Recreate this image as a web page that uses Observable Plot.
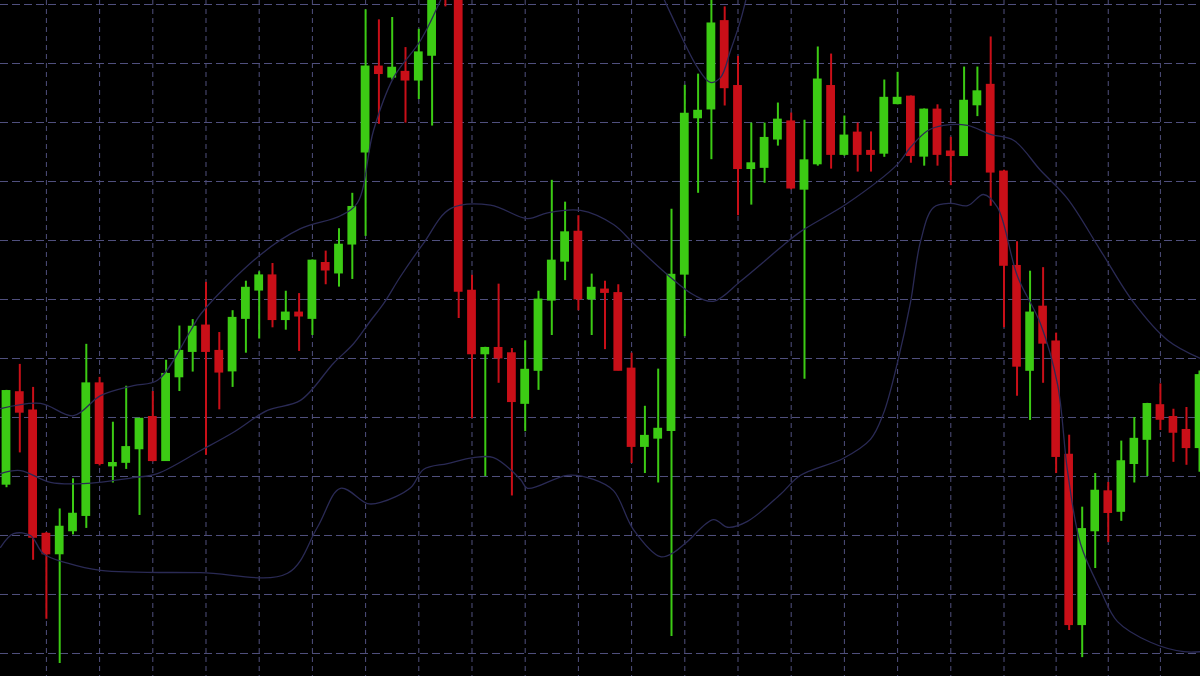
<!DOCTYPE html>
<html>
<head>
<meta charset="utf-8">
<script src="https://cdn.jsdelivr.net/npm/d3@7"></script>
<script src="https://cdn.jsdelivr.net/npm/@observablehq/plot@0.6"></script>
<style>
html, body { margin: 0; padding: 0; background: #000; overflow: hidden; }
#chart svg { display: block; }
</style>
</head>
<body>
<div id="chart"></div>
<script>
// OHLC per bar (bar index 0..90), price units
const opens = [118.7,134.2,131.1,110.2,106.9,110.8,113.4,135.7,121.8,122.4,124.7,130.0,122.7,136.9,141.2,145.5,141.2,137.9,146.8,151.6,154.0,146.6,147.7,146.8,156.1,154.5,159.4,175.0,189.4,187.7,188.5,187.2,191.4,207.0,204.0,151.4,140.8,141.7,140.8,132.4,138.0,149.9,156.5,161.4,150.1,151.6,151.0,138.2,125.1,126.5,127.8,154.3,180.8,182.3,197.1,186.1,172.2,172.4,177.2,180.1,168.7,173.0,186.1,174.6,178.2,175.1,174.8,183.2,184.3,174.3,182.1,175.0,174.4,183.0,186.3,171.6,155.6,138.0,148.7,142.8,123.6,94.9,110.8,117.4,114.1,122.2,126.3,132.0,130.0,127.8,124.9];
const highs = [134.6,139.0,135.1,110.5,114.5,119.6,142.4,136.8,129.2,135.3,129.8,134.4,139.7,145.5,146.6,152.9,144.4,148.1,153.1,154.7,156.1,151.4,151.0,156.7,158.2,162.0,168.0,199.1,197.4,197.8,192.7,195.8,205.0,209.0,206.0,154.1,141.9,152.6,141.7,143.0,151.4,170.2,166.5,164.2,154.3,153.1,152.5,140.9,131.9,138.2,165.3,186.3,188.2,201.0,199.6,191.2,179.9,179.9,183.3,181.6,180.4,192.8,191.6,181.1,179.9,178.4,187.2,188.5,184.5,182.3,183.0,177.5,189.4,189.4,194.5,171.9,159.8,154.8,155.4,144.3,127.0,114.8,120.5,119.0,126.0,130.0,132.4,135.7,131.4,131.7,137.9];
const lows = [118.1,124.0,105.8,95.8,88.3,110.1,111.2,121.8,118.9,121.2,113.4,122.5,122.6,134.4,137.7,123.6,131.3,135.1,140.9,143.3,145.2,144.8,141.2,143.9,152.5,152.1,153.4,160.7,179.7,187.2,179.9,183.9,179.4,199.6,146.8,129.8,120.0,135.8,116.7,127.6,134.6,143.9,153.2,148.1,143.9,141.5,137.9,122.2,120.5,118.9,92.9,143.7,168.0,173.7,182.8,164.2,166.0,169.7,176.0,168.6,136.5,172.6,172.1,174.3,171.6,171.6,174.1,183.0,173.1,172.6,172.6,169.3,174.3,181.0,165.8,145.2,133.6,129.5,135.8,120.5,93.9,89.3,104.4,108.8,112.4,118.9,120.0,127.8,122.4,121.9,120.7];
const closes = [134.4,130.9,109.7,106.9,111.4,113.6,135.7,122.2,122.2,124.9,129.7,122.7,137.3,141.2,145.3,141.2,137.7,146.8,151.9,154.0,146.6,147.7,147.2,156.5,155.0,159.2,165.6,189.4,188.3,189.2,187.2,191.8,203.0,202.0,151.4,140.8,141.7,140.1,132.7,138.0,149.9,156.5,161.3,150.1,151.9,151.2,138.0,125.1,126.8,128.0,154.1,181.4,181.9,196.7,185.9,172.2,173.0,177.3,180.4,168.9,173.5,187.2,174.6,177.7,174.6,174.6,184.1,184.1,174.4,182.1,174.6,174.4,183.6,185.2,171.6,155.8,138.7,147.7,142.6,123.4,94.9,111.0,117.5,113.9,122.5,126.3,132.2,129.7,127.5,124.9,137.1];

// Bollinger band traces: [bar position, price]
const upperBandA = [[-0.45,131.5],[2.56,132.4],[5.04,130.3],[7.07,133.7],[9.55,135.4],[11.35,136.3],[13.84,144.7],[14.59,147.5],[19.1,157.6],[22.1,162.0],[25.11,164.2],[26.39,166.4],[27.59,178.6],[29.1,187.6],[31.13,193.9],[32.63,200.7],[33.23,204.1]];
const upperBandB = [[48.8,204.1],[49.93,198.5],[51.96,189.3],[52.93,186.8],[53.68,187.6],[54.44,192.2],[55.19,197.3],[55.94,204.1]];
const middleBand = [[-0.45,120.5],[1.05,121.0],[3.31,119.0],[5.79,118.8],[9.55,119.8],[11.35,120.5],[14.59,124.4],[17.07,127.5],[19.62,131.2],[22.1,132.9],[24.59,139.2],[26.09,142.5],[27.37,146.4],[28.35,149.3],[29.62,153.9],[31.35,159.5],[33.38,165.4],[36.39,166.0],[39.17,163.7],[40.68,164.7],[43.16,165.1],[45.64,162.7],[47.14,159.5],[49.7,154.2],[51.65,150.8],[53.16,149.7],[55.19,153.1],[58.2,158.8],[59.7,161.5],[63.23,166.3],[66.99,172.9],[67.97,175.8],[69.25,178.6],[70.45,179.5],[72.26,179.5],[73.98,178.0],[75.73,177.0],[77.8,171.9],[79.87,167.1],[82.41,158.3],[84.94,149.5],[87.55,143.1],[90.08,140.0]];
const lowerBand = [[-0.45,108.0],[0.53,110.3],[1.8,110.0],[2.78,106.9],[4.59,105.3],[7.07,104.1],[14.59,103.7],[21.13,103.6],[23.38,111.4],[25.11,118.0],[27.14,115.4],[28.12,115.6],[30.38,118.1],[31.35,121.2],[33.16,122.2],[35.11,123.2],[36.62,123.2],[38.65,119.5],[39.17,118.0],[42.18,120.2],[44.14,119.5],[45.64,117.6],[47.14,111.0],[49.17,106.4],[50.15,107.1],[51.2,109.0],[53.16,112.7],[54.21,111.4],[55.71,112.4],[58.2,117.0],[59.7,120.2],[62.93,123.1],[64.96,126.3],[65.94,130.7],[66.99,139.3],[67.97,149.5],[68.72,159.8],[69.7,165.6],[70.98,166.3],[72.26,165.9],[73.46,167.8],[74.51,165.6],[76.04,153.9],[77.8,145.9],[79.11,135.6],[79.87,121.0],[80.87,108.6],[82.41,100.7],[83.71,95.4],[86.24,91.9],[88.78,90.3],[90.08,90.3]];

// Grid ticks
const gridPrices = [90,100,110,120,130,140,150,160,170,180,190,200];
const gridBars = [3,7,11,15,19,23,27,31,35,39,43,47,51,55,59,63,67,71,75,79,83,87];

const bars = opens.map((o, i) => ({i, open: o, high: highs[i], low: lows[i], close: closes[i]}));
const toPts = arr => arr.map(([x, y]) => ({x, y}));

const UP = "#3ccb14", DOWN = "#c90f18";
const GRID = "#50507e", BAND = "#2a2a55";
const col = d => d.close >= d.open ? UP : DOWN;
const half = 0.33;

const chart = Plot.plot({
  width: 1200,
  height: 676,
  margin: 0,
  style: {background: "#000"},
  x: {type: "linear", domain: [-0.4511, 75, 90.077], range: [0, 1003.5, 1200], axis: null},
  y: {type: "linear", domain: [86.1, 200.68], axis: null},
  marks: [
    Plot.ruleY(gridPrices, {stroke: GRID, strokeWidth: 1, strokeDasharray: "8,4"}),
    Plot.ruleX(gridBars, {stroke: GRID, strokeWidth: 1, strokeDasharray: "5,4"}),
    Plot.ruleX(bars, {x: "i", y1: "low", y2: "high", stroke: col, strokeWidth: 2, clip: true}),
    Plot.rect(bars, {
      x1: d => d.i - half, x2: d => d.i + half,
      y1: "open", y2: "close",
      fill: col, insetTop: -1, insetBottom: -1, clip: true
    }),
    Plot.line(toPts(upperBandA), {x: "x", y: "y", stroke: BAND, strokeWidth: 1.3, curve: "catmull-rom", clip: true}),
    Plot.line(toPts(upperBandB), {x: "x", y: "y", stroke: BAND, strokeWidth: 1.3, curve: "catmull-rom", clip: true}),
    Plot.line(toPts(middleBand), {x: "x", y: "y", stroke: BAND, strokeWidth: 1.3, curve: "catmull-rom", clip: true}),
    Plot.line(toPts(lowerBand), {x: "x", y: "y", stroke: BAND, strokeWidth: 1.3, curve: "catmull-rom", clip: true})
  ]
});
document.getElementById("chart").appendChild(chart);
</script>
</body>
</html>
